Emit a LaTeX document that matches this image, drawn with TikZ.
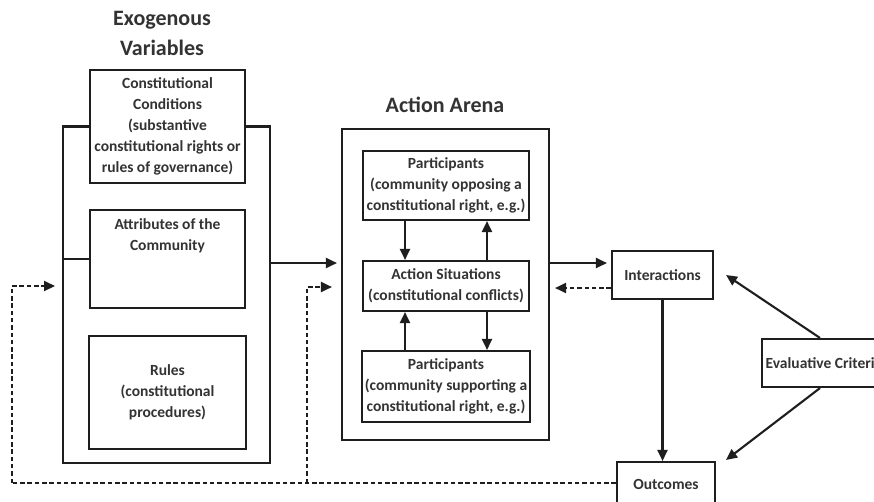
\documentclass[tikz,border=0pt]{standalone}
\usepackage{fontspec}
\setmainfont{Carlito}
\usetikzlibrary{arrows.meta,calc}
\definecolor{ink}{HTML}{1E1E1E}
\definecolor{txt}{HTML}{333333}
\tikzset{
  box/.style={draw=ink,line width=2.1pt,inner sep=0pt,fill=white},
  lbl/.style={text=txt,font=\fontsize{15.5}{21}\selectfont\bfseries,align=center,inner sep=0pt},
  ttl/.style={text=txt,font=\fontsize{22}{30}\selectfont\bfseries,align=center,inner sep=0pt},
  conn/.style={draw=ink,line width=2.1pt},
  arr/.style={conn,-{Triangle[length=11pt,width=10pt]}},
  darr/.style={conn,dash pattern=on 4.5pt off 2.8pt,-{Triangle[length=11pt,width=10pt]}},
  dline/.style={conn,dash pattern=on 4.5pt off 2.8pt},
}
\begin{document}
\begin{tikzpicture}[x=1pt,y=-1pt]
\useasboundingbox[fill=white] (0,0) rectangle (874,501);

% titles
\node[ttl] (exttl) at (162,33) {Exogenous\\Variables};
\node[ttl] (aattl) at (445,105) {Action Arena};

% exogenous boxes
\node[box,minimum width=155pt,minimum height=113pt] (cc) at (167.5,126.5) {};
\node[lbl] (cct) at (cc) {Constitutional\\Conditions\\(substantive\\constitutional rights or\\rules of governance)};
\node[box,minimum width=155pt,minimum height=98pt] (attr) at (167.5,259) {};
\node[lbl,anchor=north] (attrt) at ([yshift=-9pt]attr.north) {Attributes of the\\Community};
\node[box,minimum width=157pt,minimum height=113pt] (rules) at (167.5,392.5) {};
\node[lbl] (rulest) at (rules) {Rules\\(constitutional\\procedures)};

% outer exogenous frame
\coordinate (fl) at (63,463);
\coordinate (fr) at (270,463);
\draw[conn] (cc.west) -- (cc.west -| fl) -- (fl) -- (fr) -- (cc.east -| fr) -- (cc.east);
\draw[conn] (attr.west) -- (attr.west -| fl);

% action arena
\node[box,minimum width=207pt,minimum height=311pt] (arena) at (445.5,284.5) {};
\node[box,minimum width=166pt,minimum height=69pt] (ptop) at (446,185.5) {};
\node[lbl] (ptopt) at (ptop) {Participants\\(community opposing a\\constitutional right, e.g.)};
\node[box,minimum width=166pt,minimum height=50pt] (as) at (446,286) {};
\node[lbl] (ast) at (as) {Action Situations\\(constitutional conflicts)};
\node[box,minimum width=168pt,minimum height=71pt] (pbot) at (446,386.5) {};
\node[lbl] (pbott) at (pbot) {Participants\\(community supporting a\\constitutional right, e.g.)};

\draw[arr] ([xshift=-41pt]ptop.south) -- ([xshift=-41pt]as.north);
\draw[arr] ([xshift=41pt]as.north) -- ([xshift=41pt]ptop.south);
\draw[arr] ([xshift=-41pt]pbot.north) -- ([xshift=-41pt]as.south);
\draw[arr] ([xshift=41pt]as.south) -- ([xshift=41pt]pbot.north);

% right side boxes
\node[box,minimum width=101pt,minimum height=48pt] (inter) at (662.5,275) {};
\node[lbl] (intert) at (inter) {Interactions};
\node[box,minimum width=98pt,minimum height=42pt] (outc) at (666,483) {};
\node[lbl] (outct) at ([yshift=-1pt]outc) {Outcomes};
\node[box,minimum width=150pt,minimum height=48pt] (eval) at (837,363) {};
\node[lbl,anchor=west] (evalt) at (765.5,363) {Evaluative Criteria};

% solid connectors
\coordinate (xa) at (fr |- 0,263);
\draw[arr] (xa) -- ([xshift=-4pt]arena.west |- xa);
\coordinate (xb) at (arena.east |- 0,263);
\draw[arr] (xb) -- ([xshift=-4pt]inter.west |- xb);
\draw[arr] (inter.south) -- (inter.south |- outc.north);
\draw[arr] ([xshift=-17pt]eval.north) -- ([xshift=12pt]inter.east);
\draw[arr] ([xshift=-17pt]eval.south) -- ([xshift=10pt,yshift=1pt]outc.north east);

% dashed feedback
\coordinate (dl) at (12,483);
\coordinate (db) at (307,483);
\draw[darr] (inter.west |- 0,288) -- ([xshift=5pt]arena.east |- 0,288);
\draw[dline] (outc.west) -- (dl);
\draw[darr] (dl) -- (12,286) -- ([xshift=-8pt]fl |- 0,286);
\draw[darr] (db) -- (307,287) -- ([xshift=-9pt]arena.west |- 0,287);
\end{tikzpicture}
\end{document}
